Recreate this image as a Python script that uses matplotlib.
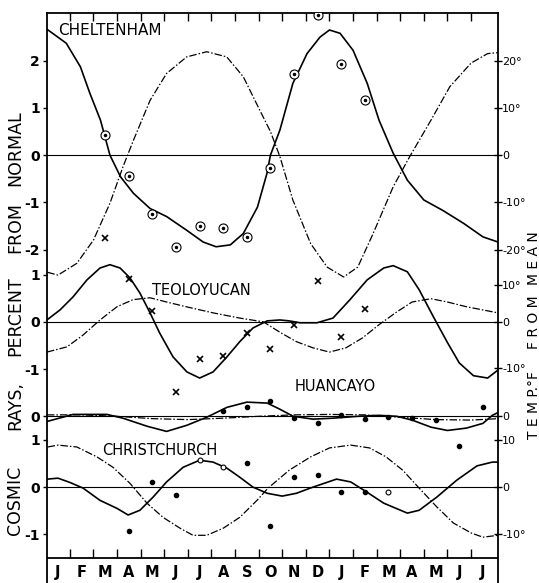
"""Cosmic rays vs temperature, four stations stacked (recreated from scan)."""

import matplotlib.pyplot as plt

MONTHS = ["J", "F", "M", "A", "M", "J", "J", "A", "S", "O",
          "N", "D", "J", "F", "M", "A", "M", "J", "J"]

# month index: 0 = first J.  values in percent (rays) / tens of deg F (temp)
CHEL_RAY_X = [-0.45, 0.35, 0.95, 1.35, 1.8, 2.2, 2.65, 3.2, 3.9, 4.6, 5.45, 6.15, 6.7,
              7.3, 7.85, 8.45, 8.85, 9.0, 9.4, 9.95, 10.55, 11.1, 11.5, 11.95, 12.5,
              13.1, 13.6, 14.2, 14.8, 15.5, 16.3, 17.2, 18.0, 18.64]
CHEL_RAY_Y = [2.66, 2.37, 1.87, 1.31, 0.74, 0.0, -0.46, -0.81, -1.13, -1.3, -1.59, -1.84,
              -1.94, -1.9, -1.66, -1.1, -0.39, 0.0, 0.53, 1.52, 2.15, 2.5, 2.65, 2.58,
              2.22, 1.52, 0.74, 0.04, -0.53, -0.95, -1.17, -1.45, -1.73, -1.84]
CHEL_TEMP_X = [-0.45, 0.0, 0.8, 1.5, 2.2, 2.75, 3.2, 3.9, 4.6, 5.45, 6.3, 7.15, 7.85,
               8.55, 9.0, 9.4, 9.95, 10.7, 11.4, 12.1, 12.7, 13.35, 14.2, 14.9, 15.8,
               16.6, 17.5, 18.2, 18.64]
CHEL_TEMP_Y = [-2.48, -2.54, -2.29, -1.8, -1.02, -0.25, 0.32, 1.16, 1.73, 2.08, 2.19,
               2.08, 1.66, 0.95, 0.5, -0.03, -0.95, -1.87, -2.37, -2.58, -2.37, -1.66,
               -0.67, -0.03, 0.74, 1.45, 1.95, 2.15, 2.17]
CHEL_PTS_M = [2, 3, 4, 5, 6, 7, 8, 9, 10, 11, 12, 13]
CHEL_PTS = [0.42, -0.44, -1.25, -1.95, -1.5, -1.54, -1.74, -0.28, 1.72, 2.97, 1.92, 1.16]

TEOL_RAY_X = [-0.47, 0.08, 0.64, 1.23, 1.78, 2.2, 2.63, 3.05, 3.47, 3.9, 4.3, 4.87,
              5.46, 6.0, 6.57, 7.16, 7.7, 8.26, 8.86, 9.4, 9.8, 10.25, 10.97, 11.65,
              12.37, 13.1, 13.8, 14.2, 14.8, 15.3, 15.9, 16.5, 17.0, 17.6, 18.2, 18.64]
TEOL_RAY_Y = [0.04, 0.25, 0.53, 0.89, 1.14, 1.21, 1.14, 0.93, 0.61, 0.19, -0.23, -0.74,
              -1.06, -1.19, -1.06, -0.74, -0.42, -0.13, 0.02, 0.04, 0.02, -0.02, -0.02,
              0.08, 0.47, 0.89, 1.14, 1.19, 1.06, 0.68, 0.11, -0.44, -0.87, -1.14,
              -1.19, -1.02]
TEOL_TEMP_X = [-0.47, 0.38, 1.06, 1.78, 2.5, 3.18, 3.9, 4.6, 5.6, 6.57, 7.7, 8.7, 9.4,
               10.1, 10.8, 11.5, 12.2, 12.9, 13.6, 14.35, 15.0, 15.8, 16.5, 17.3, 18.64]
TEOL_TEMP_Y = [-0.64, -0.53, -0.28, 0.04, 0.32, 0.47, 0.51, 0.42, 0.3, 0.19, 0.08, 0.0,
               -0.22, -0.42, -0.55, -0.64, -0.55, -0.34, -0.06, 0.21, 0.42, 0.49, 0.42,
               0.32, 0.19]
TEOL_PTS_M = [2, 3, 4, 5, 6, 7, 8, 9, 10, 11, 12, 13]
TEOL_PTS = [1.78, 0.91, 0.23, -1.48, -0.78, -0.72, -0.23, -0.57, -0.06, 0.87, -0.32, 0.28]

HUAN_RAY_X = [-0.47, 0.64, 2.07, 2.75, 3.77, 4.6, 5.46, 6.3, 7.16, 8.0, 8.86, 9.4, 9.96,
              10.8, 11.65, 12.7, 13.6, 14.35, 15.0, 15.8, 16.5, 17.3, 18.0, 18.4, 18.64]
HUAN_RAY_Y = [-0.11, 0.04, 0.04, -0.04, -0.21, -0.32, -0.19, -0.02, 0.19, 0.3, 0.28,
              0.15, 0.0, -0.06, -0.04, 0.0, 0.02, 0.0, -0.08, -0.23, -0.3, -0.25, -0.15,
              0.02, 0.08]
HUAN_TEMP_X = [-0.47, 1.0, 2.5, 4.0, 5.5, 7.0, 8.5, 10.0, 11.5, 13.0, 14.5, 16.0, 17.5,
               18.64]
HUAN_TEMP_Y = [0.03, 0.03, 0.0, -0.05, -0.07, -0.04, 0.0, 0.03, 0.04, 0.03, -0.02,
               -0.07, -0.08, -0.05]
HUAN_PTS_M = [7, 8, 9, 10, 11, 12, 13, 14, 15, 16, 18]
HUAN_PTS = [0.11, 0.19, 0.32, -0.04, -0.15, 0.02, -0.06, -0.02, -0.04, -0.08, 0.19]

CHRI_RAY_X = [-0.44, 0.0, 0.5, 1.06, 1.78, 2.5, 2.97, 3.47, 4.03, 4.6, 5.3, 6.0, 6.57,
              7.16, 7.7, 8.26, 8.86, 9.5, 10.1, 10.8, 11.8, 12.4, 13.1, 13.8, 14.8,
              15.3, 16.05, 16.9, 17.75, 18.4, 18.64]
CHRI_RAY_Y = [0.17, 0.19, 0.1, -0.02, -0.28, -0.45, -0.59, -0.49, -0.21, 0.11, 0.42,
              0.57, 0.53, 0.4, 0.21, 0.0, -0.13, -0.19, -0.13, 0.0, 0.17, 0.11, -0.11,
              -0.34, -0.55, -0.49, -0.21, 0.15, 0.45, 0.53, 0.53]
CHRI_TEMP_X = [-0.44, 0.0, 0.8, 1.65, 2.33, 3.05, 3.77, 4.45, 5.17, 5.72, 6.3, 7.0, 7.7,
               8.43, 8.9, 9.8, 10.7, 11.5, 12.4, 13.2, 13.9, 14.6, 15.3, 16.05, 16.75,
               17.5, 18.0, 18.64]
CHRI_TEMP_Y = [0.85, 0.89, 0.85, 0.64, 0.42, 0.08, -0.34, -0.64, -0.87, -1.02, -1.02,
               -0.87, -0.64, -0.28, -0.02, 0.36, 0.64, 0.83, 0.89, 0.83, 0.64, 0.36,
               -0.02, -0.42, -0.76, -0.97, -1.06, -1.02]
CHRI_PTS_M = [3, 4, 5, 8, 9, 10, 11, 12, 13, 17]
CHRI_PTS = [-0.93, 0.11, -0.17, 0.51, -0.83, 0.21, 0.25, -0.11, -0.11, 0.87]
CHRI_OPEN_M = [6, 7, 14]
CHRI_OPEN = [0.57, 0.42, -0.11]

# vertical offset of each panel's zero line (in percent units)
OFF_CHEL, OFF_TEOL, OFF_HUAN, OFF_CHRI = 7.03, 3.5, 1.5, 0.0
AXIS_Y = -1.5

DASHDOT = (6, 1.6, 1.2, 1.6)


def shift(vals, off):
    return [v + off for v in vals]


fig = plt.figure(figsize=(5.39, 5.83), dpi=100)
ax = fig.add_axes([47 / 539, 0.0, 451 / 539, 570 / 583])
ax.set_xlim(-0.466, 18.64)
ax.set_ylim(-2.03, 10.04)

for off in (OFF_CHEL, OFF_TEOL, OFF_HUAN, OFF_CHRI):
    ax.axhline(off, color="black", lw=0.8, zorder=1)

panels = [
    (OFF_CHEL, CHEL_RAY_X, CHEL_RAY_Y, CHEL_TEMP_X, CHEL_TEMP_Y),
    (OFF_TEOL, TEOL_RAY_X, TEOL_RAY_Y, TEOL_TEMP_X, TEOL_TEMP_Y),
    (OFF_HUAN, HUAN_RAY_X, HUAN_RAY_Y, HUAN_TEMP_X, HUAN_TEMP_Y),
    (OFF_CHRI, CHRI_RAY_X, CHRI_RAY_Y, CHRI_TEMP_X, CHRI_TEMP_Y),
]
for off, rx, ry, tx, ty in panels:
    ax.plot(rx, shift(ry, off), color="black", lw=1.2, zorder=3,
            solid_joinstyle="round")
    ax.plot(tx, shift(ty, off), color="black", lw=0.9, dashes=DASHDOT, zorder=2)

# Cheltenham: circled dots
ax.plot(CHEL_PTS_M, shift(CHEL_PTS, OFF_CHEL), ls="none", marker="o", ms=6.5,
        mfc="white", mec="black", mew=0.8, zorder=4)
ax.plot(CHEL_PTS_M, shift(CHEL_PTS, OFF_CHEL), ls="none", marker="o", ms=1.5,
        color="black", zorder=5)
# Teoloyucan: crosses
ax.plot(TEOL_PTS_M, shift(TEOL_PTS, OFF_TEOL), ls="none", marker="x", ms=5,
        mew=1.2, color="black", zorder=4)
# Huancayo / Christchurch: dots
ax.plot(HUAN_PTS_M, shift(HUAN_PTS, OFF_HUAN), ls="none", marker="o", ms=3,
        color="black", zorder=4)
ax.plot(CHRI_PTS_M, shift(CHRI_PTS, OFF_CHRI), ls="none", marker="o", ms=3,
        color="black", zorder=4)
ax.plot(CHRI_OPEN_M, shift(CHRI_OPEN, OFF_CHRI), ls="none", marker="o", ms=3.5,
        mfc="white", mec="black", mew=0.8, zorder=4)

# month axis drawn inside the frame
bounds = [i + 0.5 for i in range(len(MONTHS) - 1)]
ax.axhline(AXIS_Y, color="black", lw=1.3, zorder=3)
ax.vlines(bounds, AXIS_Y, AXIS_Y + 0.2, color="black", lw=1.0)
for i, m in enumerate(MONTHS):
    ax.text(i, -1.8, m, ha="center", va="center", fontsize=10.5, fontweight="bold")

ax.set_xticks(bounds)
ax.tick_params(axis="x", bottom=False, labelbottom=False, top=True,
               direction="in", length=6, width=1.0)
ax.spines["bottom"].set_visible(False)
for s in ("left", "right", "top"):
    ax.spines[s].set_linewidth(1.3)

left_ticks = ([OFF_CHEL + v for v in (2, 1, 0, -1, -2)]
              + [OFF_TEOL + v for v in (1, 0, -1)] + [OFF_HUAN]
              + [OFF_CHRI + v for v in (1, 0, -1)])
left_labels = ["2", "1", "0", "-1", "-2", "1", "0", "-1", "0", "1", "0", "-1"]
ax.set_yticks(left_ticks)
ax.set_yticklabels(left_labels, fontsize=10, fontweight="bold")
ax.tick_params(axis="y", direction="out", length=3, width=1.0, pad=2)

ax2 = ax.twinx()
ax2.set_ylim(ax.get_ylim())
right_ticks = ([OFF_CHEL + v for v in (2, 1, 0, -1, -2)]
               + [OFF_TEOL + 0.78, OFF_TEOL, OFF_TEOL - 0.98] + [OFF_HUAN]
               + [OFF_CHRI + v for v in (1, 0, -1)])
right_labels = ["20°", "10°", "0", "-10°", "-20°", "10°", "0", "-10°", "0",
                "10", "0", "-10°"]
ax2.set_yticks(right_ticks)
ax2.set_yticklabels(right_labels, fontsize=8)
ax2.tick_params(axis="y", direction="inout", length=6, width=1.0, pad=0)
for s in ax2.spines.values():
    s.set_visible(False)

# station names
ax.text(0.0, 9.66, "CHELTENHAM", fontsize=11, va="center")
ax.text(3.98, 4.17, "TEOLOYUCAN", fontsize=10.5, va="center")
ax.text(10.04, 2.14, "HUANCAYO", fontsize=10.5, va="center")
ax.text(1.86, 0.78, "CHRISTCHURCH", fontsize=10.5, va="center")

# axis titles, word by word
for word, ypx in [("NORMAL", 148), ("FROM", 228), ("PERCENT", 316),
                  ("RAYS,", 406), ("COSMIC", 500)]:
    fig.text(15 / 539, 1 - ypx / 583, word, rotation=90, ha="center",
             va="center", fontsize=12.5)
for word, ypx in [("M E A N", 258), ("F R O M", 322), ("T E M P.°F", 405)]:
    fig.text(533.5 / 539, 1 - ypx / 583, word, rotation=90, ha="center",
             va="center", fontsize=10)

fig.savefig("out.png", dpi=100)
